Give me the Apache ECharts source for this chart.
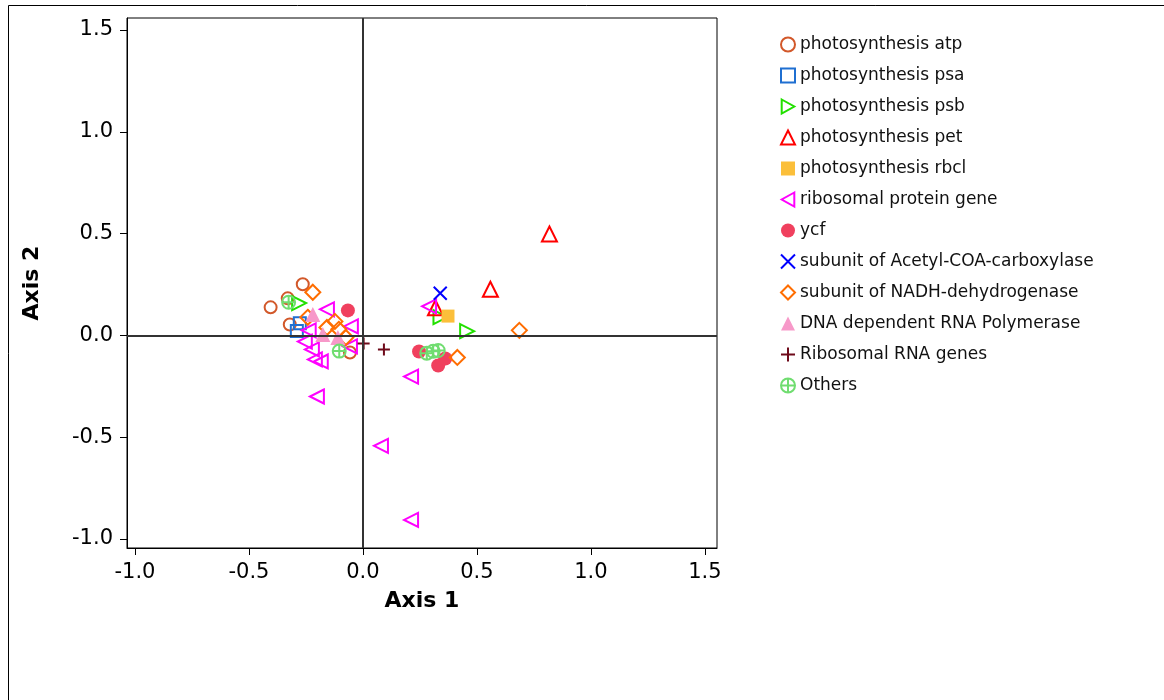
<!DOCTYPE html>
<html>
<head>
<meta charset="utf-8">
<script src="https://cdn.jsdelivr.net/npm/echarts@6/dist/echarts.min.js"></script>
<style>
  html,body{margin:0;padding:0;background:#fff;}
  #chart{width:1164px;height:700px;}
</style>
</head>
<body>
<div id="chart"></div>
<script>
// tick labels on both axes
const tickValues = [-1.0, -0.5, 0.0, 0.5, 1.0, 1.5];

// point coordinates [axis 1, axis 2]
const atpPoints = [[-0.405, 0.138], [-0.264, 0.251], [-0.33, 0.182], [-0.321, 0.054], [-0.057, -0.084]];
const psaPoints = [[-0.277, 0.06], [-0.29, 0.022]];
const psbPoints = [[-0.28, 0.159], [0.34, 0.09], [0.457, 0.021]];
const petPoints = [[0.559, 0.227], [0.818, 0.498], [0.318, 0.136]];
const rbclPoints = [[0.373, 0.095]];
const ribProteinPoints = [
  [-0.158, 0.128], [-0.053, 0.044], [-0.238, 0.025], [-0.255, -0.03], [-0.224, -0.069],
  [-0.211, -0.118], [-0.185, -0.128], [-0.057, -0.054], [-0.202, -0.3], [0.079, -0.542],
  [0.211, -0.906], [0.211, -0.202], [0.29, 0.143]
];
const ycfPoints = [[-0.066, 0.123], [0.246, -0.079], [0.33, -0.148], [0.361, -0.113]];
const acetylPoints = [[0.339, 0.207]];
const nadhPoints = [
  [-0.22, 0.212], [-0.242, 0.089], [-0.158, 0.039], [-0.123, 0.069], [-0.106, 0.03],
  [-0.075, -0.01], [0.686, 0.025], [0.414, -0.108]
];
const dnaPolPoints = [[-0.22, 0.103], [-0.176, 0.005], [-0.11, -0.01]];
const ribRnaPoints = [[0.003, -0.04], [0.092, -0.069]];
const otherPoints = [[-0.326, 0.163], [-0.104, -0.077], [0.28, -0.087], [0.308, -0.078], [0.33, -0.074]];

const FONT = 'DejaVu Sans';
const NONE = 'rgba(0,0,0,0)';

// marker shapes
const RIGHT_TRI = 'path://M0,0L9,5L0,10Z';
const LEFT_TRI = 'path://M9,0L0,5L9,10Z';
const CROSS = 'path://M0,0L10,10M10,0L0,10';
const PLUS = 'path://M5,0L5,10M0,5L10,5';
const CIRCLE_PLUS = 'path://M10,5A5,5,0,1,1,0,5A5,5,0,1,1,10,5ZM5,0L5,10M0,5L10,5';

// hollow marker style
function hollow(color){
  return {color:NONE, borderColor:color, borderWidth:2, opacity:1};
}
function filled(color){
  return {color:color, borderWidth:0, opacity:1};
}

const seriesList = [
  {name:'photosynthesis atp', data:atpPoints, symbol:'circle', symbolSize:12, itemStyle:hollow('#D2582A')},
  {name:'photosynthesis psa', data:psaPoints, symbol:'rect', symbolSize:12, itemStyle:hollow('#1F6FD1')},
  {name:'photosynthesis psb', data:psbPoints, symbol:RIGHT_TRI, symbolSize:14, itemStyle:hollow('#22E000')},
  {name:'photosynthesis pet', data:petPoints, symbol:'triangle', symbolSize:15, itemStyle:hollow('#FF0000')},
  {name:'photosynthesis rbcl', data:rbclPoints, symbol:'rect', symbolSize:13, itemStyle:filled('#FBBF3A')},
  {name:'ribosomal protein gene', data:ribProteinPoints, symbol:LEFT_TRI, symbolSize:14, itemStyle:hollow('#FF00FF')},
  {name:'ycf', data:ycfPoints, symbol:'circle', symbolSize:14, itemStyle:filled('#F0405E')},
  {name:'subunit of Acetyl-COA-carboxylase', data:acetylPoints, symbol:CROSS, symbolSize:13, itemStyle:hollow('#0000FF')},
  {name:'subunit of NADH-dehydrogenase', data:nadhPoints, symbol:'diamond', symbolSize:15, itemStyle:hollow('#FF6D00')},
  {name:'DNA dependent RNA Polymerase', data:dnaPolPoints, symbol:'triangle', symbolSize:15, itemStyle:filled('#F799C9')},
  {name:'Ribosomal RNA genes', data:ribRnaPoints, symbol:PLUS, symbolSize:12, itemStyle:hollow('#6E0A1A')},
  {name:'Others', data:otherPoints, symbol:CIRCLE_PLUS, symbolSize:13, itemStyle:hollow('#70DD70')}
].map(s => Object.assign({type:'scatter', emphasis:{disabled:true}, z:3}, s));

// zero reference lines
seriesList.push({
  type:'scatter', data:[], silent:true, z:1,
  markLine:{
    silent:true, symbol:'none', animation:false,
    label:{show:false},
    lineStyle:{color:'#333', width:2, type:'solid'},
    data:[{xAxis:0}, {yAxis:0}]
  }
});

function axisCommon(){
  return {
    type:'value',
    splitLine:{show:false},
    axisLine:{show:true, onZero:false, lineStyle:{color:'#000', width:1}},
    axisTick:{show:true, inside:false, length:7, customValues:tickValues, lineStyle:{color:'#000'}},
    axisLabel:{
      customValues:tickValues, color:'#000', fontSize:21, fontFamily:FONT, margin:14,
      formatter:v => v.toFixed(1)
    },
    nameLocation:'middle',
    nameTextStyle:{fontSize:22, fontWeight:'bold', fontFamily:FONT, color:'#000'}
  };
}

const chart = echarts.init(document.getElementById('chart'));
const option = {
  animation:false,
  backgroundColor:'#fff',
  graphic:[{
    type:'rect', silent:true,
    shape:{x:8.5, y:5.5, width:1300, height:900},
    style:{fill:NONE, stroke:'#000', lineWidth:1}
  }],
  grid:{
    left:127, top:18, right:447, bottom:152,
    show:true, borderColor:'#000', borderWidth:1, backgroundColor:NONE
  },
  xAxis:Object.assign(axisCommon(), {min:-1.035, max:1.553, name:'Axis 1', nameGap:42}),
  yAxis:Object.assign(axisCommon(), {min:-1.044, max:1.559, name:'Axis 2', nameGap:84, nameRotate:90}),
  legend:{
    orient:'vertical', left:775, top:31,
    itemWidth:14, itemHeight:14, itemGap:14,
    textStyle:{fontSize:17, fontFamily:FONT, color:'#111', lineHeight:17},
    data:seriesList.filter(s => s.name).map(s => s.name)
  },
  series:seriesList
};
chart.setOption(option);
</script>
</body>
</html>
